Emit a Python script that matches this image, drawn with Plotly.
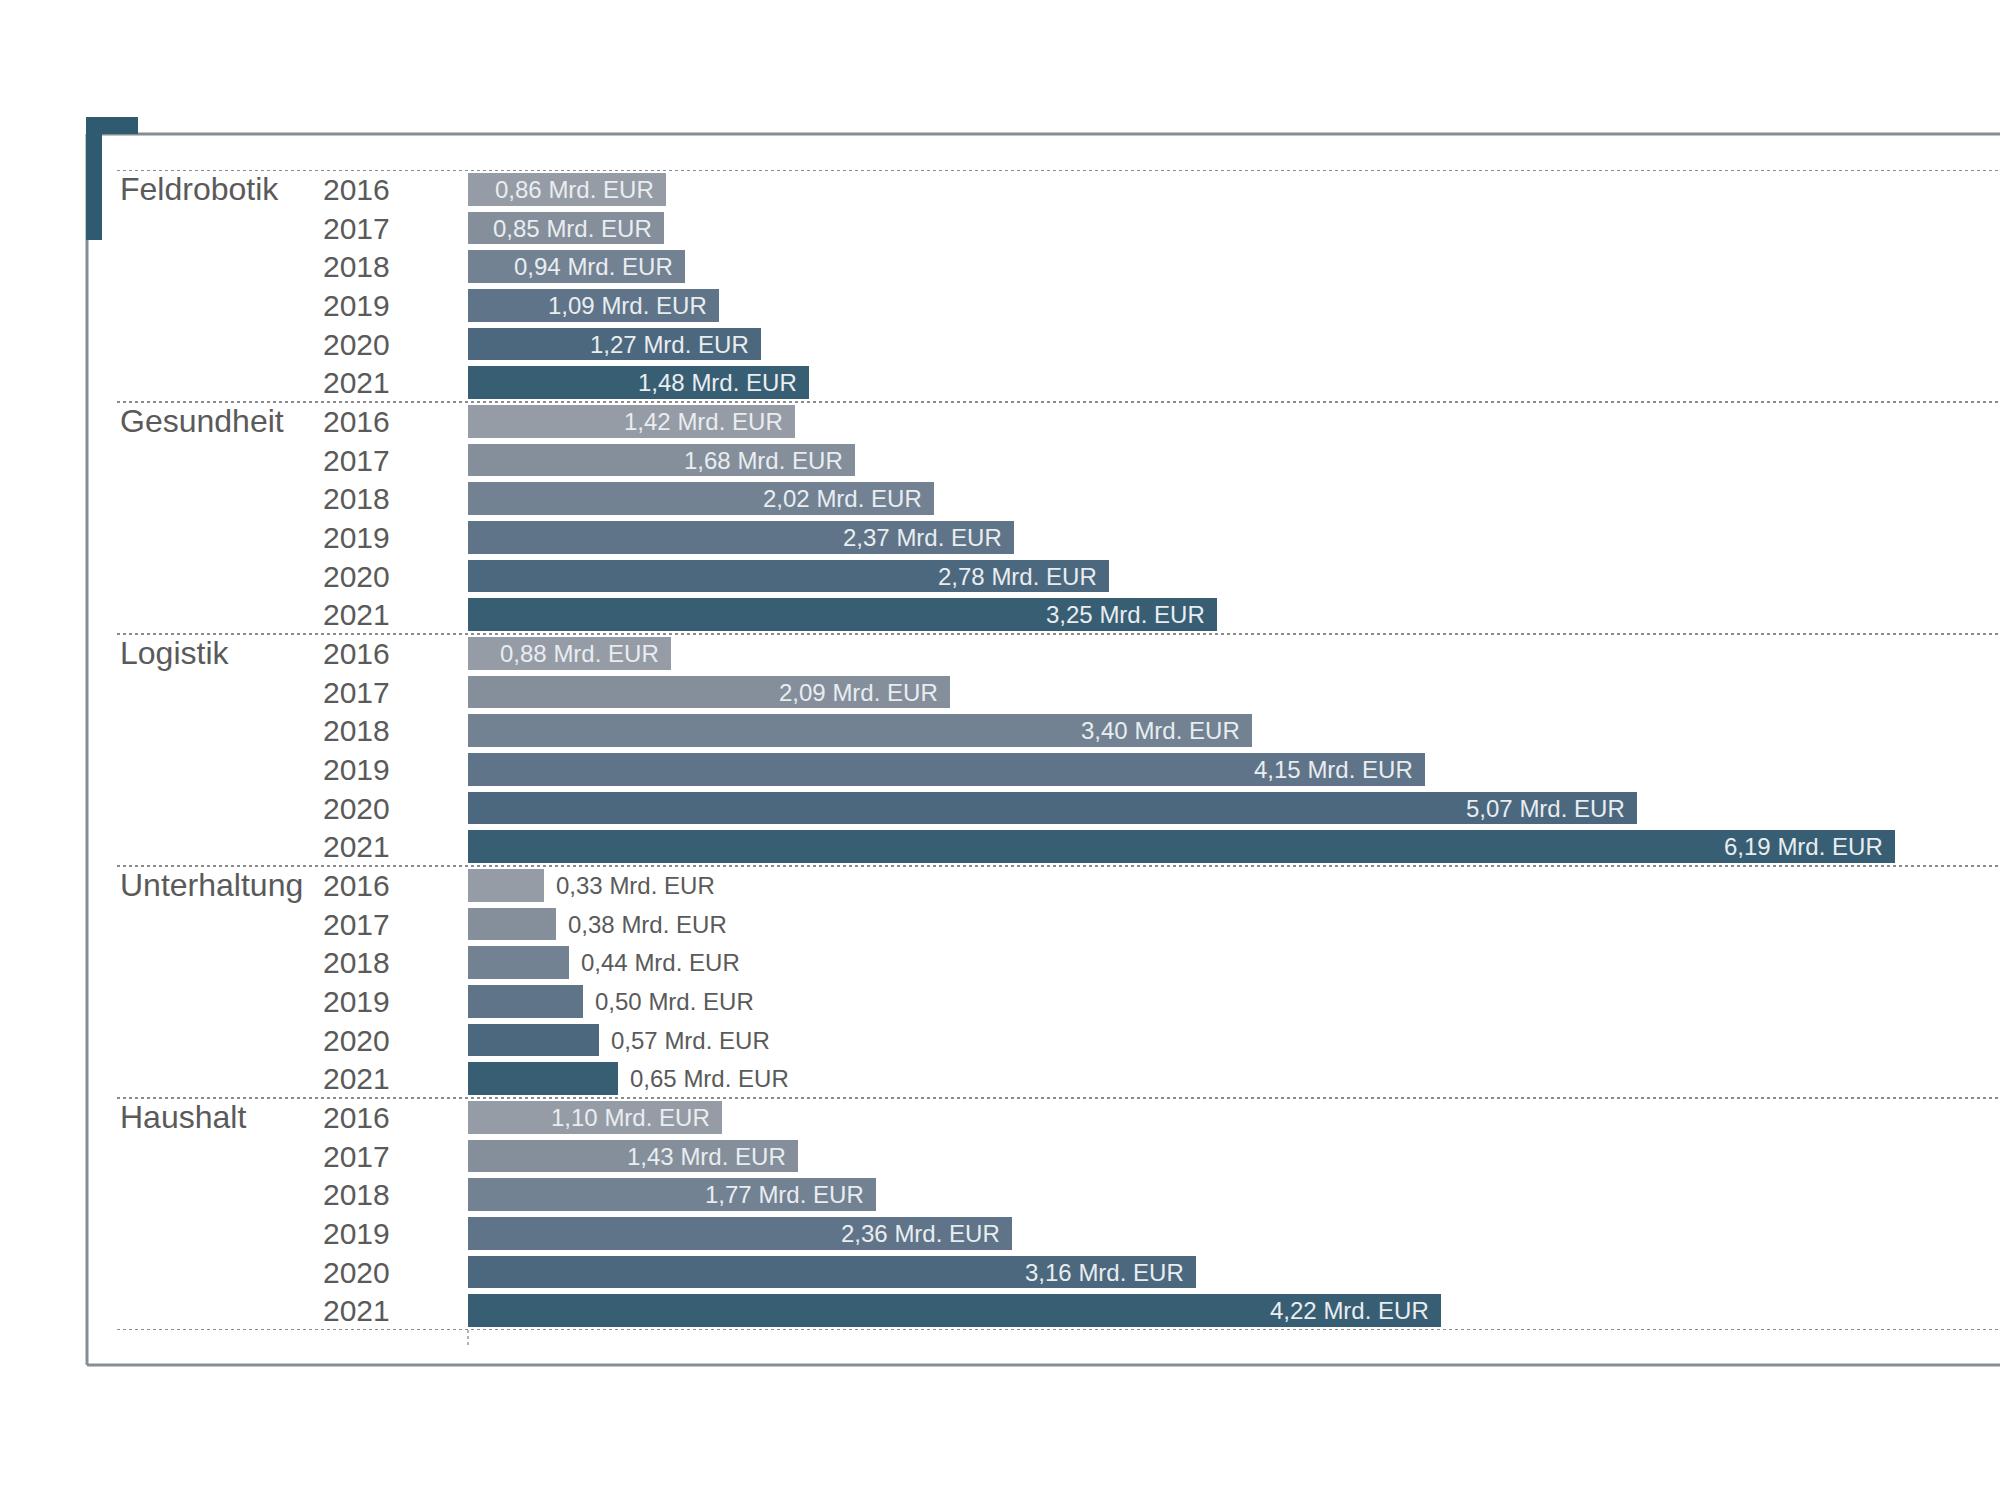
import plotly.graph_objects as go

categories = ["Feldrobotik", "Gesundheit", "Logistik", "Unterhaltung", "Haushalt"]
years = ["2016", "2017", "2018", "2019", "2020", "2021"]
values = {
    "Feldrobotik": [0.86, 0.85, 0.94, 1.09, 1.27, 1.48],
    "Gesundheit": [1.42, 1.68, 2.02, 2.37, 2.78, 3.25],
    "Logistik": [0.88, 2.09, 3.40, 4.15, 5.07, 6.19],
    "Unterhaltung": [0.33, 0.38, 0.44, 0.50, 0.57, 0.65],
    "Haushalt": [1.10, 1.43, 1.77, 2.36, 3.16, 4.22],
}
year_colors = ["#959ca6", "#858f9b", "#728293", "#5f7488", "#4c687e", "#385e74"]

W, H = 2000, 1500
L, R, T, B = 468, 0, 170, 170
PW, PH = W - L - R, H - T - B
XMAX = 6.646

def px(x):
    return (x - L) / PW

def py(y):
    return (H - B - y) / PH

def fmt(v):
    return f"{v:.2f}".replace(".", ",") + " Mrd. EUR"

FONT = "Liberation Sans, Arial"
TXT = "#5a5a5a"

fig = go.Figure()
ys, xs, cols = [], [], []
annotations = []
row = 0
for cat in categories:
    for j, yr in enumerate(years):
        v = values[cat][j]
        ys.append(row)
        xs.append(v)
        cols.append(year_colors[j])
        inside = v > 0.8
        annotations.append(dict(
            x=v, y=row, xref="x", yref="y", text=fmt(v), showarrow=False,
            xanchor="right" if inside else "left", xshift=-10 if inside else 10,
            font=dict(family=FONT, size=24, color="#e9edf0" if inside else TXT),
        ))
        annotations.append(dict(
            x=px(321), y=row, xref="paper", yref="y", text=yr, showarrow=False,
            xanchor="left", font=dict(family=FONT, size=30, color=TXT),
        ))
        if j == 0:
            annotations.append(dict(
                x=px(118), y=row, xref="paper", yref="y", text=cat, showarrow=False,
                xanchor="left", font=dict(family=FONT, size=32, color=TXT),
            ))
        row += 1

fig.add_trace(go.Bar(
    x=xs, y=ys, orientation="h", marker=dict(color=cols, line=dict(width=0)),
    width=0.84, hoverinfo="skip", showlegend=False,
))

shapes = []
for k in range(len(categories) + 1):
    yv = k * 6 - 0.5
    shapes.append(dict(type="line", xref="paper", yref="y", x0=px(117), x1=1.0,
                       y0=yv, y1=yv, line=dict(color="#8c8c8c", width=2, dash="dot")))
# small vertical tick under the baseline
shapes.append(dict(type="line", xref="paper", yref="paper", x0=0, x1=0,
                   y0=py(1330), y1=py(1348), line=dict(color="#999999", width=1.5, dash="dot")))
# frame
frame_col = "#858e95"
shapes.append(dict(type="line", xref="paper", yref="paper", x0=px(87), x1=1.0,
                   y0=py(134), y1=py(134), line=dict(color=frame_col, width=3)))
shapes.append(dict(type="line", xref="paper", yref="paper", x0=px(87), x1=px(87),
                   y0=py(134), y1=py(1365), line=dict(color=frame_col, width=3)))
shapes.append(dict(type="line", xref="paper", yref="paper", x0=px(87), x1=1.0,
                   y0=py(1365), y1=py(1365), line=dict(color=frame_col, width=3)))
# accent L
pts = [(86, 117), (138, 117), (138, 134), (102, 134), (102, 240), (86, 240)]
path = "M " + " L ".join(f"{px(a)},{py(b)}" for a, b in pts) + " Z"
shapes.append(dict(type="path", xref="paper", yref="paper", path=path,
                   fillcolor="#2f5a70", line=dict(width=0)))

fig.update_layout(
    width=W, height=H, margin=dict(l=L, r=R, t=T, b=B),
    paper_bgcolor="white", plot_bgcolor="white",
    xaxis=dict(range=[0, XMAX], visible=False, fixedrange=True),
    yaxis=dict(range=[29.5, -0.5], visible=False, fixedrange=True),
    bargap=0, shapes=shapes, annotations=annotations,
)

fig.write_html("out.html")
